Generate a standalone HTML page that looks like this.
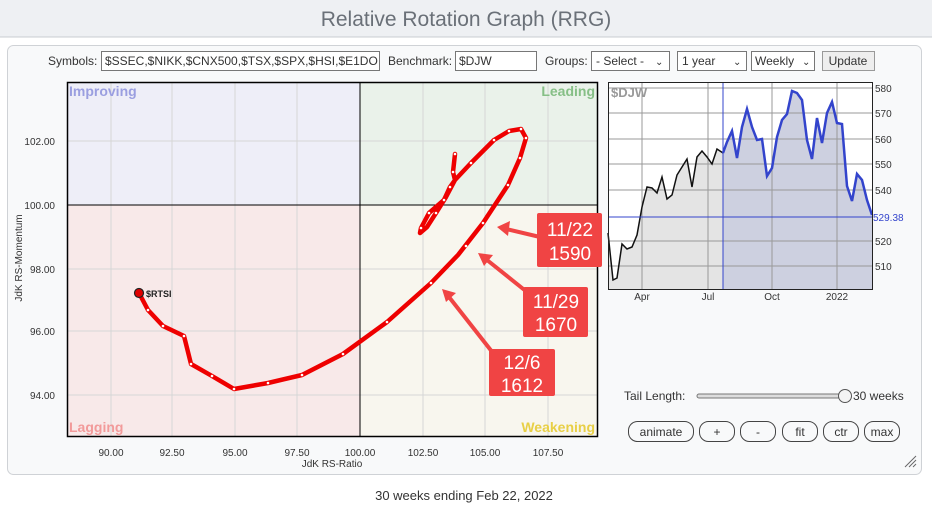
<!DOCTYPE html>
<html><head><meta charset="utf-8"><style>
body{margin:0;width:932px;height:507px;overflow:hidden;background:#fff;font-family:"Liberation Sans",sans-serif}
</style></head><body>
<svg width="932" height="507" viewBox="0 0 932 507" xmlns="http://www.w3.org/2000/svg" font-family="Liberation Sans, sans-serif">
<rect x="0" y="0" width="932" height="37" fill="#eef0f3"/>
<line x1="0" y1="37" x2="932" y2="37" stroke="#c8ccd2"/>
<text x="466" y="26" text-anchor="middle" font-size="21" fill="#6a7078">Relative Rotation Graph (RRG)</text>
<rect x="7.5" y="45.5" width="914" height="429" rx="6" fill="#f8f9fa" stroke="#cfd2d6"/>
<!-- controls -->
<g font-size="12" fill="#333">
<text x="48" y="65">Symbols:</text>
<rect x="101.5" y="51.5" width="278" height="19" fill="#fff" stroke="#777"/>
<text x="105" y="65">$SSEC,$NIKK,$CNX500,$TSX,$SPX,$HSI,$E1DO</text>
<text x="388" y="65">Benchmark:</text>
<rect x="455.5" y="51.5" width="81" height="19" fill="#fff" stroke="#777"/>
<text x="459" y="65">$DJW</text>
<text x="545" y="65">Groups:</text>
<rect x="591.5" y="51.5" width="78" height="19" fill="#fff" stroke="#777"/>
<text x="596" y="65">- Select -</text><text x="655" y="65" font-size="10">&#8964;</text>
<rect x="677.5" y="51.5" width="69" height="19" fill="#fff" stroke="#777"/>
<text x="682" y="65">1 year</text><text x="733" y="65" font-size="10">&#8964;</text>
<rect x="751.5" y="51.5" width="63" height="19" fill="#fff" stroke="#777"/>
<text x="755" y="65">Weekly</text><text x="802" y="65" font-size="10">&#8964;</text>
<rect x="822.5" y="51.5" width="52" height="19" fill="#eee" stroke="#999"/>
<text x="848" y="65" text-anchor="middle">Update</text>
</g>
<!-- quadrants -->
<rect x="67" y="82" width="293" height="123" fill="#eeeef8"/>
<rect x="360" y="82" width="237" height="123" fill="#eaf2ea"/>
<rect x="67" y="205" width="293" height="231" fill="#f8e9e9"/>
<rect x="360" y="205" width="237" height="231" fill="#f8f6ee"/>
<g stroke="#d6d6d6" stroke-width="1">
<line x1="111" y1="82" x2="111" y2="436"/><line x1="172" y1="82" x2="172" y2="436"/>
<line x1="235" y1="82" x2="235" y2="436"/><line x1="297" y1="82" x2="297" y2="436"/>
<line x1="423" y1="82" x2="423" y2="436"/><line x1="485" y1="82" x2="485" y2="436"/>
<line x1="548" y1="82" x2="548" y2="436"/>
<line x1="67" y1="141" x2="597" y2="141"/><line x1="67" y1="269" x2="597" y2="269"/>
<line x1="67" y1="331" x2="597" y2="331"/><line x1="67" y1="395" x2="597" y2="395"/>
</g>
<line x1="360" y1="82" x2="360" y2="436" stroke="#000"/>
<line x1="67" y1="205" x2="597" y2="205" stroke="#000"/>
<rect x="67.5" y="82.5" width="530" height="354" fill="none" stroke="#000" stroke-width="1.5"/>
<g font-size="14" font-weight="bold">
<text x="69" y="96" fill="#9a9ee0">Improving</text>
<text x="595" y="96" fill="#86bf86" text-anchor="end">Leading</text>
<text x="69" y="432" fill="#f29a9a">Lagging</text>
<text x="595" y="432" fill="#e8cf45" text-anchor="end">Weakening</text>
</g>
<g font-size="10" fill="#333" text-anchor="middle">
<text x="111" y="456">90.00</text><text x="172" y="456">92.50</text><text x="235" y="456">95.00</text>
<text x="297" y="456">97.50</text><text x="360" y="456">100.00</text><text x="423" y="456">102.50</text>
<text x="485" y="456">105.00</text><text x="548" y="456">107.50</text>
<text x="332" y="467">JdK RS-Ratio</text>
</g>
<g font-size="10" fill="#333" text-anchor="end">
<text x="55" y="145">102.00</text><text x="55" y="209">100.00</text><text x="55" y="273">98.00</text>
<text x="55" y="335">96.00</text><text x="55" y="399">94.00</text>
</g>
<text transform="translate(22,258) rotate(-90)" font-size="10" fill="#333" text-anchor="middle">JdK RS-Momentum</text>
<!-- tail -->
<polyline fill="none" stroke="#ee0000" stroke-width="4.5" stroke-linejoin="round" stroke-linecap="round"
points="455,154 453,172 455,180 450,187 444,200 429,213 421,228 420,233 427,227 436,213 446,197 455,180 471,163 494,140 509,131 521,129 526,138 520,158 508,185 483,223 458,255 431,283 387,322 343,354 302,375 268,383 234,389 212,376 191,364 184,336 163,326 148,310 139,293"/>
<g fill="#fff">
<circle cx="455" cy="154" r="1.3"/><circle cx="453" cy="172" r="1.3"/><circle cx="450" cy="187" r="1.3"/><circle cx="444" cy="200" r="1.3"/><circle cx="429" cy="213" r="1.3"/><circle cx="421" cy="228" r="1.3"/><circle cx="436" cy="213" r="1.3"/><circle cx="471" cy="163" r="1.3"/><circle cx="494" cy="140" r="1.3"/><circle cx="509" cy="131" r="1.3"/><circle cx="521" cy="129" r="1.3"/><circle cx="526" cy="138" r="1.3"/><circle cx="520" cy="158" r="1.3"/><circle cx="508" cy="185" r="1.3"/><circle cx="483" cy="223" r="1.3"/><circle cx="466" cy="246" r="1.3"/><circle cx="431" cy="283" r="1.3"/><circle cx="387" cy="322" r="1.3"/><circle cx="343" cy="354" r="1.3"/><circle cx="302" cy="375" r="1.3"/><circle cx="268" cy="383" r="1.3"/><circle cx="234" cy="389" r="1.3"/><circle cx="212" cy="376" r="1.3"/><circle cx="191" cy="364" r="1.3"/><circle cx="184" cy="336" r="1.3"/><circle cx="163" cy="326" r="1.3"/><circle cx="148" cy="310" r="1.3"/>
</g>
<circle cx="139" cy="293" r="4.5" fill="#e00000" stroke="#222" stroke-width="1.2"/>
<text x="146" y="297" font-size="9" font-weight="bold" fill="#222">$RTSI</text>
<!-- annotations -->
<g stroke="#f04444" stroke-width="4" fill="#f04444">
<line x1="540" y1="237" x2="506" y2="229"/><polygon points="497,227 510,221 508,236" stroke="none"/>
<line x1="527" y1="292" x2="487" y2="260"/><polygon points="478,253 493,255 484,266" stroke="none"/>
<line x1="493" y1="353" x2="449" y2="297"/><polygon points="442,289 456,293 446,302" stroke="none"/>
</g>
<g fill="#f04444"><rect x="537" y="213" width="65" height="54" rx="2"/><rect x="523" y="287" width="65" height="50" rx="2"/><rect x="489" y="349" width="66" height="47" rx="2"/></g>
<g fill="#fff" font-size="19" text-anchor="middle">
<text x="570" y="236">11/22</text><text x="570" y="260">1590</text>
<text x="556" y="308">11/29</text><text x="556" y="331">1670</text>
<text x="522" y="369">12/6</text><text x="522" y="392">1612</text>
</g>
<!-- price chart -->
<rect x="608" y="82" width="265" height="208" fill="#fff"/>
<polygon fill="#e4e4e4" points="608,233 613,280 617,278 622,244 627,249 632,247 637,235 642,207 647,187 652,188 657,193 662,177 667,199 672,195 677,175 682,167 687,159 692,187 697,157 702,151 707,157 712,164 717,149 723,153 723,290 608,290"/>
<polygon fill="#cdd0e0" points="723,153 727,142 732,131 737,158 742,127 747,109 752,127 757,140 762,139 767,176 772,168 777,137 782,120 787,114 792,91 797,93 802,100 807,140 812,159 817,118 822,143 827,113 832,102 837,123 842,124 847,186 852,201 857,174 862,180 867,200 872,215 872,290 723,290"/>
<g stroke="#999" stroke-width="1">
<line x1="642" y1="82" x2="642" y2="290"/><line x1="708" y1="82" x2="708" y2="290"/><line x1="772" y1="82" x2="772" y2="290"/><line x1="837" y1="82" x2="837" y2="290"/>
<line x1="608" y1="88" x2="873" y2="88"/><line x1="608" y1="113" x2="873" y2="113"/><line x1="608" y1="139" x2="873" y2="139"/><line x1="608" y1="164" x2="873" y2="164"/><line x1="608" y1="190" x2="873" y2="190"/><line x1="608" y1="241" x2="873" y2="241"/><line x1="608" y1="266" x2="873" y2="266"/>
</g>
<polyline fill="none" stroke="#111" stroke-width="1.5" points="608,233 613,280 617,278 622,244 627,249 632,247 637,235 642,207 647,187 652,188 657,193 662,177 667,199 672,195 677,175 682,167 687,159 692,187 697,157 702,151 707,157 712,164 717,149 723,153"/>
<polyline fill="none" stroke="#3344cc" stroke-width="2.5" points="723,153 727,142 732,131 737,158 742,127 747,109 752,127 757,140 762,139 767,176 772,168 777,137 782,120 787,114 792,91 797,93 802,100 807,140 812,159 817,118 822,143 827,113 832,102 837,123 842,124 847,186 852,201 857,174 862,180 867,200 872,215"/>
<line x1="723" y1="82" x2="723" y2="290" stroke="#3344cc"/>
<line x1="608" y1="217" x2="873" y2="217" stroke="#3344cc"/>
<rect x="608.5" y="82.5" width="264" height="207" fill="none" stroke="#222"/>
<text x="611" y="97" font-size="13" font-weight="bold" fill="#999">$DJW</text>
<g font-size="10" fill="#333">
<text x="875" y="92">580</text><text x="875" y="117">570</text><text x="875" y="143">560</text><text x="875" y="168">550</text><text x="875" y="194">540</text><text x="875" y="245">520</text><text x="875" y="270">510</text>
<text x="873" y="221" fill="#3344cc">529.38</text>
<text x="642" y="300" text-anchor="middle">Apr</text><text x="708" y="300" text-anchor="middle">Jul</text><text x="772" y="300" text-anchor="middle">Oct</text><text x="837" y="300" text-anchor="middle">2022</text>
</g>
<!-- tail length -->
<text x="624" y="400" font-size="12" fill="#333">Tail Length:</text>
<rect x="697" y="394" width="148" height="4" rx="2" fill="#ddd" stroke="#777"/>
<circle cx="845" cy="396" r="6.5" fill="#f4f4f4" stroke="#555"/>
<text x="853" y="400" font-size="12" fill="#333">30 weeks</text>
<g fill="#f8f9fa" stroke="#444" stroke-width="1">
<rect x="628.5" y="421.5" width="65" height="20" rx="9"/><rect x="699.5" y="421.5" width="35" height="20" rx="9"/>
<rect x="740.5" y="421.5" width="35" height="20" rx="9"/><rect x="782.5" y="421.5" width="35" height="20" rx="9"/>
<rect x="823.5" y="421.5" width="35" height="20" rx="9"/><rect x="864.5" y="421.5" width="35" height="20" rx="9"/>
</g>
<g font-size="12" fill="#333" text-anchor="middle">
<text x="661" y="436">animate</text><text x="717" y="436">+</text><text x="758" y="436">-</text><text x="800" y="436">fit</text><text x="841" y="436">ctr</text><text x="882" y="436">max</text>
</g>
<g stroke="#666" stroke-width="1"><line x1="905" y1="467" x2="916" y2="456"/><line x1="909" y1="467" x2="916" y2="460"/><line x1="913" y1="467" x2="916" y2="464"/></g>
<text x="464" y="500" font-size="13" fill="#333" text-anchor="middle">30 weeks ending Feb 22, 2022</text>
</svg>
</body></html>
